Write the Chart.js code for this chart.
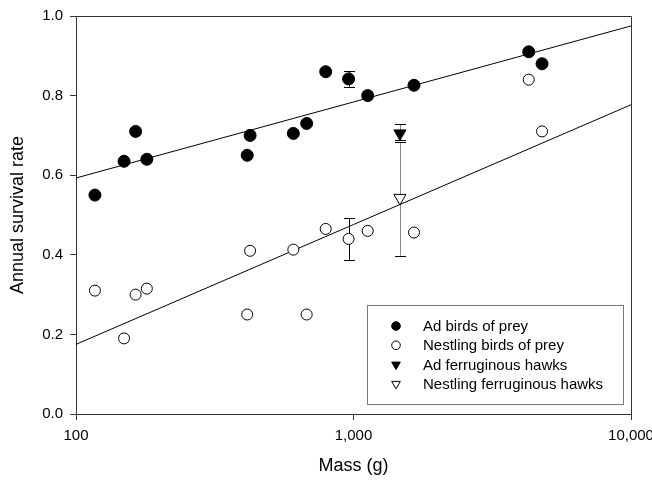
<!DOCTYPE html>
<html>
<head>
<meta charset="utf-8">
<script src="https://cdn.jsdelivr.net/npm/chart.js@4.4.0/dist/chart.umd.min.js"></script>
<style>
  html, body { margin: 0; padding: 0; background: #fff; }
</style>
</head>
<body>
<canvas id="chart" width="652" height="483"></canvas>
<script>
// values
const massBirds = [117, 149, 164, 180, 414, 424, 607, 678, 794, 960, 1125, 1652, 4280, 4780];
const adultSurv = [0.55, 0.635, 0.71, 0.64, 0.65, 0.70, 0.705, 0.73, 0.86, 0.842, 0.80, 0.826, 0.91, 0.88];
const nestSurv  = [0.31, 0.19, 0.30, 0.315, 0.25, 0.41, 0.413, 0.25, 0.465, 0.44, 0.46, 0.456, 0.84, 0.71];

const hawkMass = [1470];
const hawkAdSurv = [0.705];
const hawkNestSurv = [0.543];

// error bars (x, low, high)
const errX  = [960, 960, 1470, 1470];
const errLo = [0.8225, 0.387, 0.689, 0.398];
const errHi = [0.861, 0.492, 0.729, 0.683];
const errStem = ['#000', '#000', '#888', '#888'];

// fitted regression lines, end points
const fitX = [100, 10000];
const fitAdY = [0.593, 0.975];
const fitNestY = [0.175, 0.777];

const xTicks = [100, 1000, 10000];
const seriesLabels = ['Ad birds of prey', 'Nestling birds of prey', 'Ad ferruginous hawks', 'Nestling ferruginous hawks'];

const pts = (xs, ys) => xs.map((x, i) => ({ x: x, y: ys[i] }));

const errorBars = {
    id: 'errorBars',
    beforeDatasetsDraw(chart) {
        const ctx = chart.ctx;
        const xs = chart.scales.x, ys = chart.scales.y;
        ctx.save();
        ctx.lineWidth = 1;
        for (let i = 0; i < errX.length; i++) {
            const px = Math.round(xs.getPixelForValue(errX[i])) + 0.5;
            const lo = ys.getPixelForValue(errLo[i]);
            const hi = ys.getPixelForValue(errHi[i]);
            ctx.strokeStyle = errStem[i];
            ctx.beginPath();
            ctx.moveTo(px, lo);
            ctx.lineTo(px, hi);
            ctx.stroke();
            ctx.strokeStyle = '#000';
            ctx.beginPath();
            ctx.moveTo(px - 5.5, Math.round(lo) + 0.5);
            ctx.lineTo(px + 5.5, Math.round(lo) + 0.5);
            ctx.moveTo(px - 5.5, Math.round(hi) + 0.5);
            ctx.lineTo(px + 5.5, Math.round(hi) + 0.5);
            ctx.stroke();
        }
        ctx.restore();
    }
};

const frameAndLegend = {
    id: 'frameAndLegend',
    afterDraw(chart) {
        const ctx = chart.ctx;
        const a = chart.chartArea;
        ctx.save();
        // top and right frame
        ctx.strokeStyle = '#333';
        ctx.lineWidth = 1;
        ctx.beginPath();
        ctx.moveTo(Math.round(a.left) + 0.5, Math.round(a.top) + 0.5);
        ctx.lineTo(Math.round(a.right) + 0.5, Math.round(a.top) + 0.5);
        ctx.lineTo(Math.round(a.right) + 0.5, Math.round(a.bottom) + 0.5);
        ctx.stroke();

        // legend box
        const bx = 367, by = 305, bw = 256, bh = 99;
        ctx.fillStyle = '#fff';
        ctx.fillRect(bx, by, bw, bh);
        ctx.strokeStyle = '#777';
        ctx.strokeRect(bx + 0.5, by + 0.5, bw, bh);

        ctx.font = '15px "Liberation Sans", Arial, sans-serif';
        ctx.textBaseline = 'middle';
        ctx.textAlign = 'left';
        const sets = chart.data.datasets.filter(d => seriesLabels.includes(d.label));
        sets.forEach((d, i) => {
            const y = 326 + i * 19.3;
            ctx.fillStyle = d.backgroundColor;
            ctx.strokeStyle = '#000';
            Chart.helpers.drawPoint(ctx, {
                pointStyle: d.pointStyle,
                rotation: d.rotation || 0,
                radius: d.pointStyle === 'triangle' ? 5 : 4.3,
                borderWidth: 1
            }, 396, y);
            ctx.fillStyle = '#000';
            ctx.fillText(d.label, 423, y + 1);
        });
        ctx.restore();
    }
};

new Chart(document.getElementById('chart'), {
    type: 'scatter',
    data: {
        datasets: [
            {
                label: 'fit adults', type: 'line', data: pts(fitX, fitAdY),
                borderColor: '#000', borderWidth: 1, pointRadius: 0, order: 10
            },
            {
                label: 'fit nestlings', type: 'line', data: pts(fitX, fitNestY),
                borderColor: '#000', borderWidth: 1, pointRadius: 0, order: 10
            },
            {
                label: seriesLabels[0], data: pts(massBirds, adultSurv),
                pointStyle: 'circle', pointRadius: 6, backgroundColor: '#000',
                borderColor: '#000', borderWidth: 1, order: 2
            },
            {
                label: seriesLabels[1], data: pts(massBirds, nestSurv),
                pointStyle: 'circle', pointRadius: 5.5, backgroundColor: '#fff',
                borderColor: '#000', borderWidth: 1, order: 1
            },
            {
                label: seriesLabels[2], data: pts(hawkMass, hawkAdSurv),
                pointStyle: 'triangle', rotation: 180, pointRadius: 7, backgroundColor: '#000',
                borderColor: '#000', borderWidth: 1, order: 1
            },
            {
                label: seriesLabels[3], data: pts(hawkMass, hawkNestSurv),
                pointStyle: 'triangle', rotation: 180, pointRadius: 7, backgroundColor: '#fff',
                borderColor: '#000', borderWidth: 1, order: 1
            }
        ]
    },
    options: {
        responsive: false,
        animation: false,
        layout: { padding: { left: 0, top: 14, right: 21, bottom: 0 } },
        plugins: { legend: { display: false }, tooltip: { enabled: false } },
        scales: {
            x: {
                type: 'logarithmic',
                min: 100,
                max: 10000,
                afterBuildTicks: (scale) => { scale.ticks = xTicks.map(v => ({ value: v, major: true })); },
                afterFit: (scale) => { scale.height = 69; scale.paddingLeft = 0; scale.paddingRight = 0; },
                ticks: {
                    color: '#000', padding: 7, maxRotation: 0, autoSkip: false,
                    font: { family: '"Liberation Sans", Arial, sans-serif', size: 15 },
                    callback: (v) => Number(v).toLocaleString('en-US')
                },
                grid: { display: true, drawOnChartArea: false, drawTicks: true, tickLength: 6, color: '#333' },
                border: { display: true, color: '#333', width: 1 },
                title: {
                    display: true, text: 'Mass (g)', color: '#000',
                    font: { family: '"Liberation Sans", Arial, sans-serif', size: 18 },
                    padding: { top: 0, bottom: 6 }
                }
            },
            y: {
                min: 0,
                max: 1,
                afterFit: (scale) => { scale.width = 76; },
                ticks: {
                    stepSize: 0.2, color: '#000', padding: 7,
                    font: { family: '"Liberation Sans", Arial, sans-serif', size: 15 },
                    callback: (v) => Number(v).toFixed(1)
                },
                grid: { display: true, drawOnChartArea: false, drawTicks: true, tickLength: 6, color: '#333' },
                border: { display: true, color: '#333', width: 1 },
                title: {
                    display: true, text: 'Annual survival rate', color: '#000',
                    font: { family: '"Liberation Sans", Arial, sans-serif', size: 18 },
                    padding: { top: 7, bottom: 0 }
                }
            }
        }
    },
    plugins: [errorBars, frameAndLegend]
});
</script>
</body>
</html>
